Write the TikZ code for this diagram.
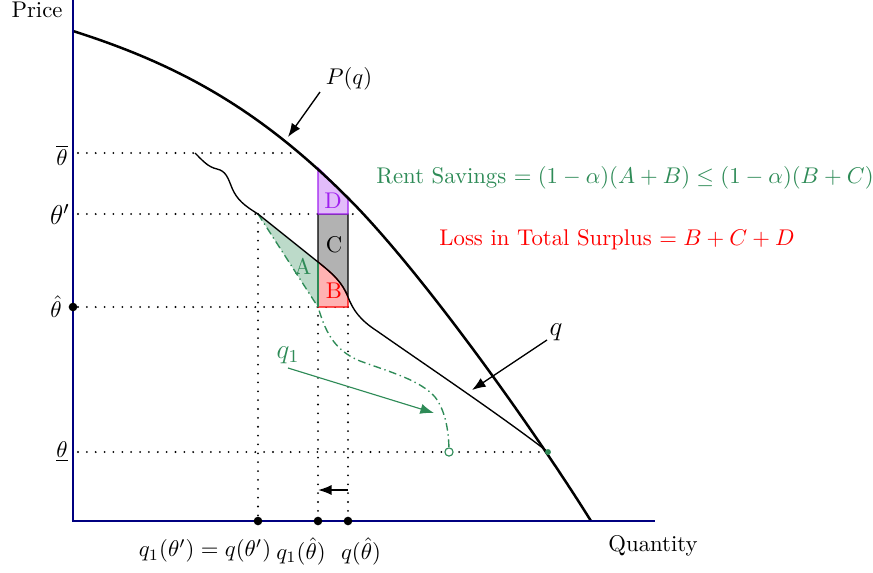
\documentclass[tikz,border=0pt]{standalone}
\usetikzlibrary{arrows.meta}
\definecolor{seagrn}{RGB}{46,139,87}
\definecolor{navyax}{RGB}{0,0,128}
\definecolor{violetD}{RGB}{160,32,240}
\begin{document}
\begin{tikzpicture}[x=0.44pt,y=-0.44pt,
  axis/.style={navyax, line width=0.9pt},
  demand/.style={line width=1.1pt},
  qline/.style={line width=0.6pt},
  guide/.style={line width=0.9pt, line cap=round, dash pattern=on 0pt off 3.9pt},
  ptr/.style={line width=0.6pt, -{Latex[length=6pt,width=4.5pt]}},
  bigdot/.style={fill=black, circle, inner sep=0pt, minimum size=3.8pt},
  lab/.style={inner sep=0.5pt}]
\useasboundingbox (0,0) rectangle (873,573);

% key points
\coordinate (O) at (73,521);
\coordinate (Ytop) at (73,0);
\coordinate (Xend) at (655,521);
\coordinate (qA) at (258,214);
\coordinate (qB) at (318,262);
\coordinate (qC) at (348,297);
\coordinate (qE) at (548,452);
\coordinate (q1end) at (449,452);

% dotted guides
\draw[guide] (78,153) -- (296,153);
\draw[guide] (78,214) -- (360,214);
\draw[guide] (78,307) -- (348,307);
\draw[guide] (78,452) -- (qE);
\draw[guide] (qA) -- (258,521);
\draw[guide] (318,307) -- (318,521);
\draw[guide] (348,307) -- (348,521);

% regions
\filldraw[fill=black!30, draw=black, line width=0.5pt] (318,214) -- (348,214) -- (348,297)
   .. controls (342,282) and (333,274) .. (qB) -- cycle;
\filldraw[fill=red!30, draw=red, line width=0.5pt] (qB) .. controls (333,274) and (342,282) .. (qC)
   -- (348,307) -- (318,307) -- cycle;
\filldraw[fill=violetD!30, draw=violetD, line width=0.6pt] (318,168) -- (348,198) -- (348,214) -- (318,214) -- cycle;
\fill[seagrn!32] (qA) -- (qB) -- (318,307) -- cycle;
\draw[seagrn, line width=0.5pt] (qB) -- (318,307);

% region labels
\node[red, lab] (Blab) at (334,291) {B};
\node[lab] (Clab) at (334,245) {C};
\node[violetD, lab] (Dlab) at (333,201) {D};
\node[seagrn, lab] (Alab) at (303,266) {A};

% q1 (dash-dotted)
\draw[seagrn, line width=0.6pt, dash pattern=on 3.4pt off 1.6pt on 0.6pt off 1.6pt]
  (qA) -- (318,307) .. controls (325,330) and (333,350) .. (360,361)
  .. controls (390,372) and (420,380) .. (435,397)
  .. controls (445,410) and (449,430) .. (q1end);

% q curve
\draw[qline] (195,153) .. controls (203,161) and (208,167) .. (217,169)
  .. controls (226,171) and (228,178) .. (232,188)
  .. controls (237,200) and (245,206) .. (qA) -- (qB)
  .. controls (333,274) and (342,282) .. (qC)
  .. controls (353,310) and (360,320) .. (377,331)
  .. controls (430,368) and (500,415) .. (qE);

% demand curve P(q)
\draw[demand] (73,31) .. controls (180,65) and (260,110) .. (348,198)
  .. controls (420,270) and (531,425) .. (591,521);

% axes
\draw[axis] (Ytop) -- (O) -- (Xend);

% dots
\node[bigdot] (dA) at (258,521) {};
\node[bigdot] (dB) at (318,521) {};
\node[bigdot] (dC) at (348,521) {};
\node[bigdot] (dY) at (73,307) {};
\node[fill=seagrn, circle, inner sep=0pt, minimum size=2.6pt] (dE) at (qE) {};
\node[draw=seagrn, circle, inner sep=0pt, minimum size=3.6pt, line width=0.5pt, fill=white] (dq1) at (q1end) {};

% labels
\node[lab] (price) at (37,10) {Price};
\node[lab] (qty) at (653,546) {Quantity};
\node[lab] (tbar) at (62,155) {$\overline{\theta}$};
\node[lab] (tprime) at (60,214) {\large$\theta'$};
\node[lab] (that) at (56,307) {$\hat{\theta}$};
\node[lab] (tlow) at (62,452) {$\underline{\theta}$};
\node[lab] (bl1) at (205,551) {$q_1(\theta')=q(\theta')$};
\node[lab] (bl2) at (301,551) {$q_1(\hat{\theta})$};
\node[lab] (bl3) at (361,551) {$q(\hat{\theta})$};

\node[lab] (Plab) at (349,79) {$P(q)$};
\node[lab] (qlab) at (556,332) {\large$q$};
\node[seagrn, lab] (q1lab) at (288,355) {\large$q_1$};

\node[seagrn, lab] (rent) at (625,178) {Rent Savings $=(1-\alpha)(A+B)\leq(1-\alpha)(B+C)$};
\node[red, lab] (loss) at (617,240) {Loss in Total Surplus $=B+C+D$};

% pointer arrows
\coordinate (Ps) at (320,92);
\coordinate (Pt) at (288,137);
\coordinate (qs) at (547,340);
\coordinate (qt) at (472,390);
\coordinate (q1s) at (288,368);
\coordinate (q1t) at (434,413);
\coordinate (as) at (348,490);
\coordinate (at) at (318,490);
\draw[ptr] (Ps) -- (Pt);
\draw[ptr] (qs) -- (qt);
\draw[ptr, seagrn, line width=0.5pt] (q1s) -- (q1t);
\draw[ptr, line width=0.8pt] (as) -- (at);
\end{tikzpicture}
\end{document}
